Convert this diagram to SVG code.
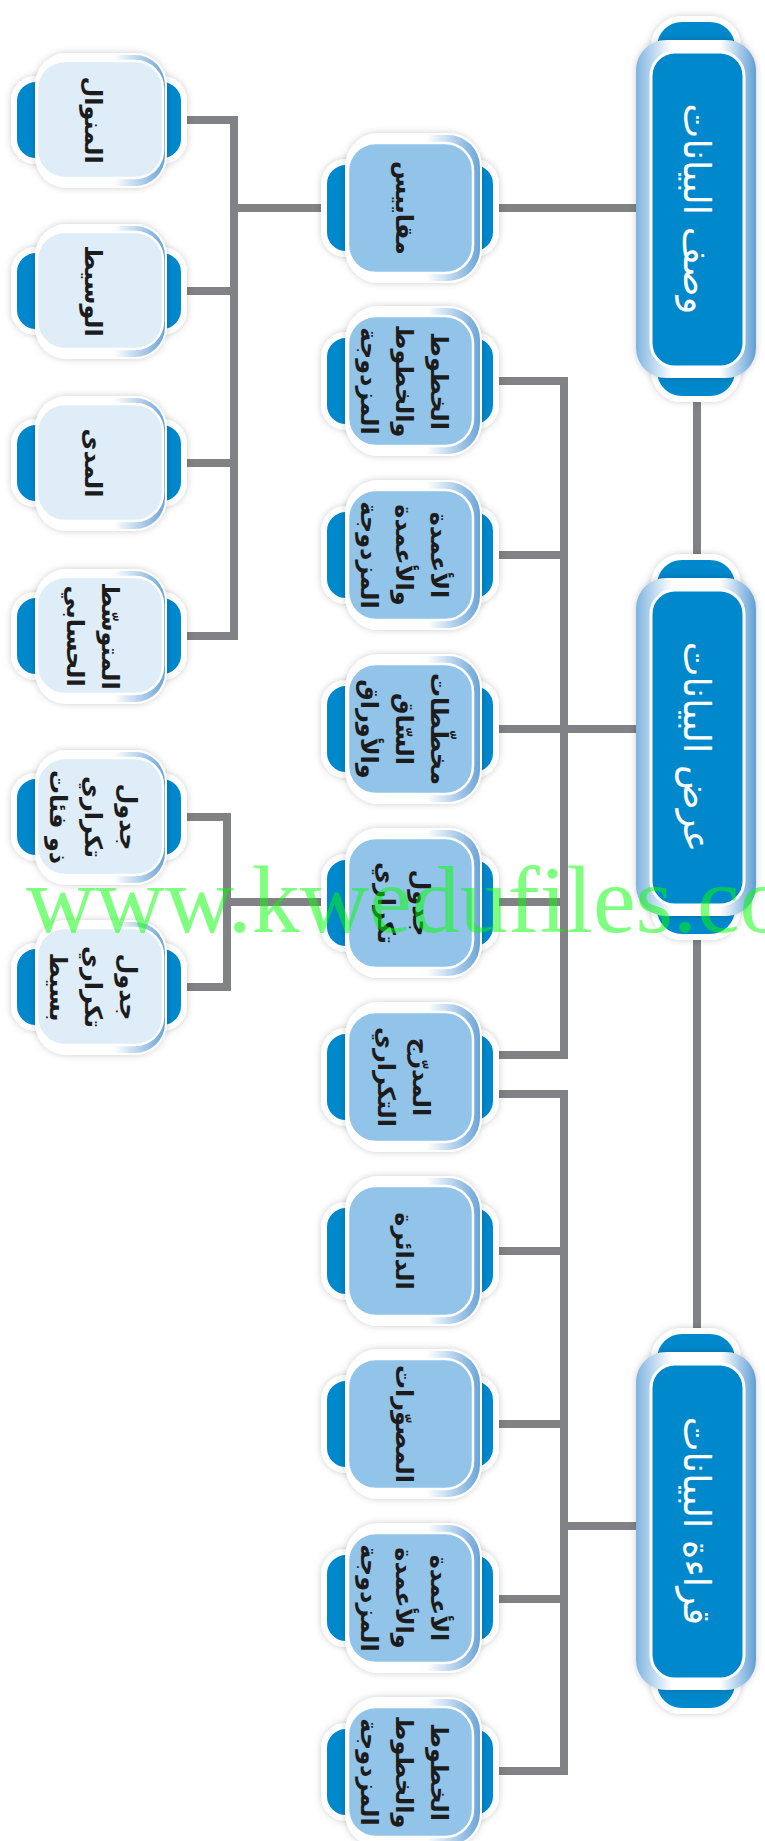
<svg xmlns="http://www.w3.org/2000/svg" xmlns:xlink="http://www.w3.org/1999/xlink" width="765" height="1841" viewBox="0 0 765 1841">
<style>
.ln{fill:none;stroke:#808285;stroke-width:8;stroke-linejoin:miter;stroke-linecap:butt}
.tab{fill:#0088cc;stroke:#ffffff;stroke-width:6}
.t{font-family:"DejaVu Sans",sans-serif;font-weight:bold;font-size:24px;fill:#1c1c1c;text-anchor:middle}
.tm{font-family:"DejaVu Sans",sans-serif;font-size:37px;fill:#ffffff;text-anchor:middle}
.wm{font-family:"Liberation Serif",serif;font-size:96px;fill:#00ff00;fill-opacity:0.5}
</style>
<defs>
<filter id="sh" x="-20%" y="-20%" width="140%" height="140%"><feDropShadow dx="0" dy="0" stdDeviation="3.5" flood-color="#000" flood-opacity="0.2"/></filter>
<linearGradient id="gS" x1="0" y1="0" x2="1" y2="0"><stop offset="0" stop-color="#ffffff"/><stop offset="0.6" stop-color="#ffffff"/><stop offset="1" stop-color="#6aa4d8"/></linearGradient>
<linearGradient id="gM" x1="0" y1="0" x2="1" y2="0"><stop offset="0" stop-color="#7fb4df"/><stop offset="0.3" stop-color="#ffffff"/><stop offset="0.7" stop-color="#ffffff"/><stop offset="1" stop-color="#5f9fd6"/></linearGradient>
<g id="midShape">
<rect class="tab" x="-86" y="-46" width="172" height="92" rx="22" filter="url(#sh)"/>
<rect x="-65" y="-75" width="137" height="150" rx="34" fill="#ffffff" filter="url(#sh)"/>
<rect x="-63" y="-73" width="133" height="146" rx="32" fill="url(#gS)"/>
<rect x="-62" y="-65" width="125" height="130" rx="28" fill="#92c3e8" stroke="#ffffff" stroke-width="2.5"/>
</g>
<g id="leftShape">
<rect class="tab" x="-85" y="-41" width="170" height="82" rx="22" filter="url(#sh)"/>
<rect x="-64" y="-67" width="132" height="135" rx="32" fill="#ffffff" filter="url(#sh)"/>
<rect x="-62" y="-65" width="128" height="131" rx="30" fill="url(#gS)"/>
<rect x="-62" y="-59" width="126" height="117" rx="28" fill="#deedf8" stroke="#ffffff" stroke-width="2.5"/>
</g>
<g id="mainShape">
<rect class="tab" x="-42" y="-190" width="84" height="380" rx="28" filter="url(#sh)"/>
<rect x="-60" y="-169" width="120" height="338" rx="30" fill="url(#gM)" filter="url(#sh)"/>
<rect x="-45" y="-157" width="93" height="315" rx="24" fill="#0088cc" stroke="#ffffff" stroke-width="3"/>
</g>
</defs>
<rect width="765" height="1841" fill="#ffffff"/>
<g id="connectors">
<path class="ln" d="M697 378 V578 M697 917 V1353"/>
<path class="ln" d="M480 208 H650"/>
<path class="ln" d="M170 120 H234 V636 H170 M170 291 H234 M170 463 H234 M234 208 H340"/>
<path class="ln" d="M170 817 H227 V987 H170 M227 902 H564"/>
<path class="ln" d="M480 381 H564 V1055 H480 M480 555 H564 M480 729 H650"/>
<path class="ln" d="M480 1094 H564 V1771 H480 M480 1251 H564 M480 1424 H564 M480 1599 H564 M564 1526 H650"/>
</g>
<g id="main-wasf" transform="translate(696,209)"><use xlink:href="#mainShape"/><text class="tm" transform="rotate(90)" x="0" y="12">وصف البيانات</text></g>
<g id="main-ard" transform="translate(696,747)"><use xlink:href="#mainShape"/><text class="tm" transform="rotate(90)" x="0" y="12">عرض البيانات</text></g>
<g id="main-qiraa" transform="translate(696,1521)"><use xlink:href="#mainShape"/><text class="tm" transform="rotate(90)" x="0" y="12">قراءة البيانات</text></g>
<g id="n-maqayis" transform="translate(410,208)"><use xlink:href="#midShape"/><text class="t" transform="rotate(90)"><tspan x="0" y="14">مقاييس</tspan></text></g>
<g id="n-khutut1" transform="translate(410,381)"><use xlink:href="#midShape"/><text class="t" transform="rotate(90)"><tspan x="0" y="-21">الخطوط</tspan><tspan x="0" y="14">والخطوط</tspan><tspan x="0" y="49">المزدوجة</tspan></text></g>
<g id="n-aamida1" transform="translate(410,555)"><use xlink:href="#midShape"/><text class="t" transform="rotate(90)"><tspan x="0" y="-21">الأعمدة</tspan><tspan x="0" y="14">والأعمدة</tspan><tspan x="0" y="49">المزدوجة</tspan></text></g>
<g id="n-mukhattat" transform="translate(410,729)"><use xlink:href="#midShape"/><text class="t" transform="rotate(90)"><tspan x="0" y="-21">مخطّطات</tspan><tspan x="0" y="14">السّاق</tspan><tspan x="0" y="49">والأوراق</tspan></text></g>
<g id="n-jadwal" transform="translate(410,903)"><use xlink:href="#midShape"/><text class="t" transform="rotate(90)"><tspan x="0" y="-3">جدول</tspan><tspan x="0" y="32">تكراري</tspan></text></g>
<g id="n-mudarraj" transform="translate(410,1077)"><use xlink:href="#midShape"/><text class="t" transform="rotate(90)"><tspan x="0" y="-3">المدرّج</tspan><tspan x="0" y="32">التكراري</tspan></text></g>
<g id="n-daira" transform="translate(410,1251)"><use xlink:href="#midShape"/><text class="t" transform="rotate(90)"><tspan x="0" y="14">الدائرة</tspan></text></g>
<g id="n-musawwarat" transform="translate(410,1424)"><use xlink:href="#midShape"/><text class="t" transform="rotate(90)"><tspan x="0" y="14">المصوّرات</tspan></text></g>
<g id="n-aamida2" transform="translate(410,1598)"><use xlink:href="#midShape"/><text class="t" transform="rotate(90)"><tspan x="0" y="-21">الأعمدة</tspan><tspan x="0" y="14">والأعمدة</tspan><tspan x="0" y="49">المزدوجة</tspan></text></g>
<g id="n-khutut2" transform="translate(410,1772)"><use xlink:href="#midShape"/><text class="t" transform="rotate(90)"><tspan x="0" y="-21">الخطوط</tspan><tspan x="0" y="14">والخطوط</tspan><tspan x="0" y="49">المزدوجة</tspan></text></g>
<g id="n-manwal" transform="translate(99,120)"><use xlink:href="#leftShape"/><text class="t" transform="rotate(90)"><tspan x="0" y="14">المنوال</tspan></text></g>
<g id="n-wasit" transform="translate(99,291)"><use xlink:href="#leftShape"/><text class="t" transform="rotate(90)"><tspan x="0" y="14">الوسيط</tspan></text></g>
<g id="n-mada" transform="translate(99,463)"><use xlink:href="#leftShape"/><text class="t" transform="rotate(90)"><tspan x="0" y="14">المدى</tspan></text></g>
<g id="n-mutawassit" transform="translate(99,636)"><use xlink:href="#leftShape"/><text class="t" transform="rotate(90)"><tspan x="0" y="-3">المتوسّط</tspan><tspan x="0" y="32">الحسابي</tspan></text></g>
<g id="n-jadwal-fiat" transform="translate(99,817)"><use xlink:href="#leftShape"/><text class="t" transform="rotate(90)"><tspan x="0" y="-21">جدول</tspan><tspan x="0" y="14">تكراري</tspan><tspan x="0" y="49">ذو فئات</tspan></text></g>
<g id="n-jadwal-basit" transform="translate(99,987)"><use xlink:href="#leftShape"/><text class="t" transform="rotate(90)"><tspan x="0" y="-21">جدول</tspan><tspan x="0" y="14">تكراري</tspan><tspan x="0" y="49">بسيط</tspan></text></g>
<text class="wm" x="26" y="932">www.kwedufiles.com</text>
</svg>
